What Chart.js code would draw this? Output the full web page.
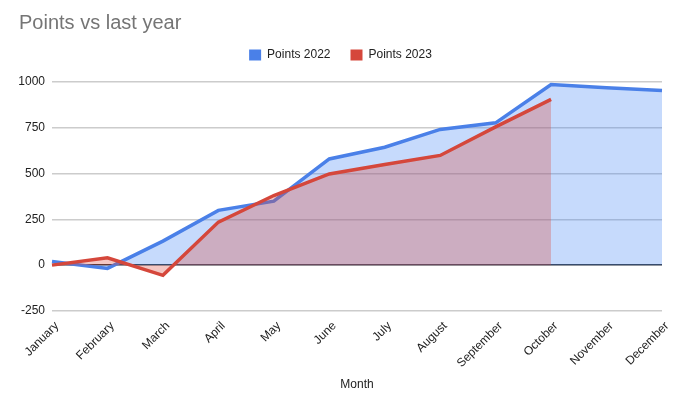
<!DOCTYPE html>
<html>
<head>
<meta charset="utf-8">
<script src="https://cdn.jsdelivr.net/npm/chart.js@4"></script>
<style>
  html,body{margin:0;padding:0;background:#fff;}
  #wrap{width:680px;height:406px;}
</style>
</head>
<body>
<div id="wrap"><canvas id="c"></canvas></div>
<script>
months = ['January','February','March','April','May','June','July','August','September','October','November','December']
points2022 = [20, -18, 131, 299, 349, 580, 644, 741, 777, 986, 968, 954]
points2023 = [0, 40, -56, 235, 380, 498, 550, 599, 755, 905, null, null]
yTicks = [-250, 0, 250, 500, 750, 1000]

Chart.defaults.font.family = '"Liberation Sans", Arial, sans-serif'

// extra room below the legend
legendGap = {
    id: 'legendGap',
    beforeInit: function(chart){
        var fit = chart.legend.fit
        chart.legend.fit = function(){
            fit.bind(chart.legend)()
            this.height += 11
        }
    }
}

new Chart(document.getElementById('c').getContext('2d'), {
    type: 'line',
    data: {
        labels: months,
        datasets: [{
            label: 'Points 2022',
            data: points2022,
            borderColor: '#4a80e8',
            backgroundColor: 'rgba(66,133,244,0.3)',
            borderWidth: 3.5,
            pointRadius: 0,
            fill: 'origin',
            order: 1
        }, {
            label: 'Points 2023',
            data: points2023,
            borderColor: '#d5473b',
            backgroundColor: 'rgba(219,68,55,0.3)',
            borderWidth: 3.5,
            pointRadius: 0,
            fill: 'origin',
            order: 0
        }]
    },
    plugins: [legendGap],
    options: {
        responsive: true,
        maintainAspectRatio: false,
        animation: false,
        layout: {padding: {left: 19, right: 18, top: 7, bottom: 10}},
        plugins: {
            title: {
                display: true,
                text: 'Points vs last year',
                align: 'start',
                color: '#757575',
                font: {size: 20, weight: 'normal'},
                padding: {top: 4, bottom: -6}
            },
            legend: {
                labels: {
                    boxWidth: 12,
                    boxHeight: 11,
                    color: '#222',
                    font: {size: 12},
                    padding: 20,
                    generateLabels: function(chart){
                        return chart.data.datasets.map(function(ds, i){
                            return {text: ds.label, fillStyle: ds.borderColor, strokeStyle: ds.borderColor, lineWidth: 0, datasetIndex: i, fontColor: '#222'}
                        })
                    }
                }
            },
            tooltip: {enabled: false}
        },
        scales: {
            x: {
                grid: {display: false},
                border: {display: false},
                afterFit: function(axis){ axis.paddingLeft = 0 },
                ticks: {minRotation: 45, maxRotation: 45, color: '#222', font: {size: 12}, padding: 0, labelOffset: 5},
                title: {display: true, text: 'Month', color: '#222', font: {size: 12}, padding: {top: 7}}
            },
            y: {
                min: -250,
                max: 1000,
                afterBuildTicks: function(axis){ axis.ticks = yTicks.map(function(v){ return {value: v} }) },
                afterFit: function(axis){ axis.width = 33 },
                border: {display: false},
                grid: {
                    color: function(ctx){ return ctx.tick && ctx.tick.value === 0 ? '#333' : '#cccccc' },
                    lineWidth: 1.5,
                    drawTicks: false
                },
                ticks: {
                    color: '#222',
                    font: {size: 12},
                    padding: 7,
                    callback: function(v){ return String(v) }
                }
            }
        }
    }
});
</script>
</body>
</html>
